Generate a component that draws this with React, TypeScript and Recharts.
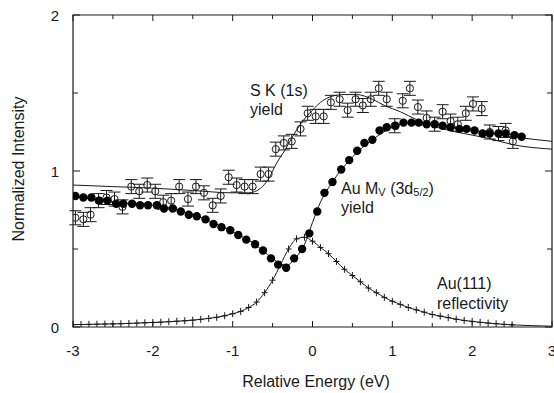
import React from "react";
import {
  ComposedChart,
  Line,
  Scatter,
  ErrorBar,
  XAxis,
  YAxis,
  ReferenceArea,
} from "recharts";

// S K (1s) yield, open circles with error bars
const skX = [
  -2.97, -2.87, -2.78, -2.68, -2.58, -2.48, -2.38, -2.27, -2.17, -2.07,
  -1.97, -1.87, -1.77, -1.67, -1.56, -1.46, -1.36, -1.25, -1.15, -1.05,
  -0.95, -0.85, -0.75, -0.65, -0.55, -0.46, -0.36, -0.26, -0.15, -0.06,
  0.04, 0.14, 0.23, 0.34, 0.44, 0.54, 0.63, 0.73, 0.83, 0.93,
  1.03, 1.13, 1.22, 1.32, 1.43, 1.53, 1.63, 1.73, 1.82, 1.92,
  2.01, 2.12, 2.22, 2.33, 2.42, 2.51,
];
const skY = [
  0.7, 0.69, 0.72, 0.81, 0.83, 0.82, 0.77, 0.9, 0.87, 0.91,
  0.87, 0.8, 0.81, 0.9, 0.82, 0.9, 0.86, 0.78, 0.84, 0.96,
  0.91, 0.9, 0.9, 0.98, 0.98, 1.14, 1.18, 1.19, 1.27, 1.37,
  1.35, 1.35, 1.44, 1.46, 1.39, 1.46, 1.42, 1.46, 1.53, 1.46,
  1.29, 1.45, 1.53, 1.41, 1.34, 1.3, 1.38, 1.32, 1.3, 1.37,
  1.43, 1.4, 1.25, 1.24, 1.26, 1.19,
];
const skErr = 0.045;

const skFitX = [
  -3, -2.5, -2, -1.5, -1, -0.8, -0.65, -0.55, -0.45, -0.35, -0.25, -0.15,
  0, 0.1, 0.25, 0.4, 0.55, 0.75, 0.9, 1.1, 1.3, 1.5, 1.8, 2.2, 2.5, 3,
];
const skFitY = [
  0.91, 0.9, 0.89, 0.875, 0.86, 0.86, 0.89, 0.95, 1.05, 1.13, 1.22, 1.3,
  1.39, 1.44, 1.48, 1.49, 1.49, 1.46, 1.42, 1.38, 1.33, 1.29, 1.25, 1.21, 1.17, 1.14,
];

// Au M_V (3d5/2) yield, filled circles
const auX = [
  -2.97, -2.87, -2.77, -2.67, -2.57, -2.46, -2.37, -2.26, -2.16, -2.06, -1.95,
  -1.86, -1.75, -1.65, -1.55, -1.45, -1.34, -1.24, -1.14, -1.03, -0.93,
  -0.83, -0.72, -0.62, -0.52, -0.43, -0.33, -0.23, -0.13, -0.04, 0.06,
  0.15, 0.25, 0.36, 0.46, 0.56, 0.65, 0.75, 0.84, 0.93, 1.04,
  1.14, 1.24, 1.33, 1.43, 1.53, 1.63, 1.73, 1.84, 1.93, 2.03,
  2.13, 2.22, 2.33, 2.42, 2.53, 2.62,
];
const auY = [
  0.84, 0.83, 0.83, 0.81, 0.81, 0.79, 0.79, 0.79, 0.78, 0.78, 0.78,
  0.76, 0.76, 0.74, 0.72, 0.71, 0.69, 0.66, 0.64, 0.62, 0.59,
  0.56, 0.53, 0.49, 0.44, 0.4, 0.38, 0.44, 0.5, 0.6, 0.74,
  0.86, 0.93, 1.01, 1.07, 1.13, 1.18, 1.2, 1.26, 1.28, 1.29,
  1.31, 1.31, 1.31, 1.3, 1.3, 1.29, 1.28, 1.27, 1.27, 1.26,
  1.24, 1.24, 1.24, 1.24, 1.23, 1.22,
];

const auFitX = [
  -3, -2.5, -2, -1.5, -1, -0.75, -0.5, -0.35, -0.2, -0.1, 0, 0.1, 0.25, 0.5,
  0.75, 1, 1.25, 1.5, 2, 2.5, 3,
];
const auFitY = [
  0.84, 0.8, 0.78, 0.72, 0.61, 0.54, 0.44, 0.39, 0.45, 0.53, 0.67, 0.8, 0.93,
  1.09, 1.2, 1.28, 1.31, 1.3, 1.26, 1.22, 1.19,
];

// Au(111) reflectivity, crosses
const reflX = [
  -3, -2.9, -2.8, -2.7, -2.6, -2.5, -2.4, -2.3, -2.2, -2.1,
  -2, -1.9, -1.8, -1.7, -1.6, -1.5, -1.4, -1.3, -1.2, -1.1,
  -1, -0.9, -0.8, -0.7, -0.6, -0.5, -0.4, -0.3, -0.2, -0.1,
  0, 0.1, 0.2, 0.3, 0.4, 0.5, 0.6, 0.7, 0.8, 0.9,
  1, 1.1, 1.2, 1.3, 1.4, 1.5, 1.6, 1.7, 1.8, 1.9,
  2, 2.1, 2.2, 2.3, 2.4, 2.5,
];
const reflY = [
  0.015, 0.016, 0.017, 0.018, 0.019, 0.02, 0.021, 0.023, 0.025, 0.027,
  0.029, 0.031, 0.034, 0.037, 0.04, 0.044, 0.049, 0.055, 0.062, 0.072,
  0.085, 0.1, 0.125, 0.16, 0.22, 0.3, 0.4, 0.5, 0.565, 0.575,
  0.55, 0.51, 0.47, 0.42, 0.37, 0.33, 0.29, 0.25, 0.22, 0.19,
  0.165, 0.145, 0.125, 0.11, 0.095, 0.08, 0.07, 0.06, 0.05, 0.042,
  0.036, 0.03, 0.025, 0.021, 0.017, 0.014,
];
const reflTailX = [3];
const reflTailY = [0.005];

const xTicks = [-3, -2.5, -2, -1.5, -1, -0.5, 0, 0.5, 1, 1.5, 2, 2.5, 3];
const yTicks = [0, 0.5, 1, 1.5, 2];

const W = 554;
const H = 393;
const LEFT = 73;
const RIGHT = 552;
const TOP = 15;
const BOTTOM = 327;
const FONT = "'Liberation Sans', Arial, Helvetica, sans-serif";
const INK = "#1a1a1a";

const zip = (xs: number[], ys: number[]) => xs.map((x, i) => ({ x, y: ys[i] }));

const skData = skX.map((x, i) => ({ x, y: skY[i], err: skErr }));
const skFit = zip(skFitX, skFitY);
const auData = zip(auX, auY);
const auFit = zip(auFitX, auFitY);
const reflData = zip(reflX, reflY);
const reflLine = zip(reflX.concat(reflTailX), reflY.concat(reflTailY));

function XTick(props: any) {
  const { x, payload } = props;
  const v = payload.value;
  const major = Number.isInteger(v);
  const len = major ? 6 : 4;
  return (
    <g>
      <line x1={x} x2={x} y1={BOTTOM} y2={BOTTOM - len} stroke={INK} />
      <line x1={x} x2={x} y1={TOP} y2={TOP + len} stroke={INK} />
      {major && (
        <text x={x} y={350} textAnchor="middle" dominantBaseline="central"
          fontSize={15} fontFamily={FONT} fill={INK}>
          {v}
        </text>
      )}
    </g>
  );
}

function YTick(props: any) {
  const { y, payload } = props;
  const v = payload.value;
  const major = Number.isInteger(v);
  const len = major ? 7 : 5;
  return (
    <g>
      <line x1={LEFT} x2={LEFT + len} y1={y} y2={y} stroke={INK} />
      <line x1={RIGHT} x2={RIGHT - len} y1={y} y2={y} stroke={INK} />
      {major && (
        <text x={55} y={y} textAnchor="middle" dominantBaseline="central"
          fontSize={15} fontFamily={FONT} fill={INK}>
          {v}
        </text>
      )}
    </g>
  );
}

const OpenCircle = (p: any) => (
  <circle cx={p.cx} cy={p.cy} r={3.6} fill="none" stroke={INK} strokeWidth={1} />
);
const FilledCircle = (p: any) => <circle cx={p.cx} cy={p.cy} r={4.2} fill="#000" />;
const Cross = (p: any) => (
  <g stroke={INK} strokeWidth={1}>
    <line x1={p.cx - 3} x2={p.cx + 3} y1={p.cy} y2={p.cy} />
    <line x1={p.cx} x2={p.cx} y1={p.cy - 3.5} y2={p.cy + 3.5} />
  </g>
);

export default function App() {
  return (
    <div style={{ position: "absolute", left: 0, top: 0, width: W, height: H, background: "#fff" }}>
      <ComposedChart
        width={W}
        height={H}
        margin={{ top: TOP, right: W - RIGHT, bottom: 35, left: 0 }}
      >
        <XAxis
          type="number"
          dataKey="x"
          domain={[-3, 3]}
          ticks={xTicks}
          interval={0}
          allowDataOverflow
          axisLine={false}
          tickLine={false}
          tick={<XTick />}
          height={H - 35 - BOTTOM}
        />
        <YAxis
          type="number"
          domain={[0, 2]}
          ticks={yTicks}
          interval={0}
          allowDataOverflow
          axisLine={false}
          tickLine={false}
          tick={<YTick />}
          width={LEFT}
        />
        <ReferenceArea x1={-3} x2={3} y1={0} y2={2} fill="none" stroke={INK}
          strokeWidth={1.2} ifOverflow="visible" />
        <Line data={skFit} dataKey="y" type="monotone" stroke={INK} strokeWidth={1}
          dot={false} isAnimationActive={false} />
        <Line data={auFit} dataKey="y" type="monotone" stroke={INK} strokeWidth={1}
          dot={false} isAnimationActive={false} />
        <Line data={reflLine} dataKey="y" type="monotone" stroke={INK} strokeWidth={1}
          dot={false} isAnimationActive={false} />
        <Scatter data={reflData} dataKey="y" shape={Cross} isAnimationActive={false} />
        <Scatter data={skData} dataKey="y" shape={OpenCircle} isAnimationActive={false}>
          <ErrorBar dataKey="err" direction="y" width={6} stroke={INK} strokeWidth={1} />
        </Scatter>
        <Scatter data={auData} dataKey="y" shape={FilledCircle} isAnimationActive={false} />
      </ComposedChart>
      <svg width={W} height={H} style={{ position: "absolute", left: 0, top: 0, pointerEvents: "none" }}
        fontFamily={FONT} fill={INK}>
        <text x={250} y={90} fontSize={16} dominantBaseline="central">S K (1s)</text>
        <text x={250} y={109} fontSize={16} dominantBaseline="central">yield</text>
        <text x={341} y={188} fontSize={16} dominantBaseline="central">
          Au M<tspan fontSize={11} dy={4}>V</tspan>
          <tspan dy={-4}> (3d</tspan>
          <tspan fontSize={11} dy={4}>5/2</tspan>
          <tspan dy={-4}>)</tspan>
        </text>
        <text x={341} y={207} fontSize={16} dominantBaseline="central">yield</text>
        <text x={437} y={283} fontSize={16} dominantBaseline="central">Au(111)</text>
        <text x={437} y={303} fontSize={16} dominantBaseline="central">reflectivity</text>
        <text x={316} y={381} fontSize={16} textAnchor="middle" dominantBaseline="central">
          Relative Energy (eV)
        </text>
        <text x={18} y={169} fontSize={16} textAnchor="middle" dominantBaseline="central"
          transform="rotate(-90 18 169)">
          Normalized Intensity
        </text>
      </svg>
    </div>
  );
}
